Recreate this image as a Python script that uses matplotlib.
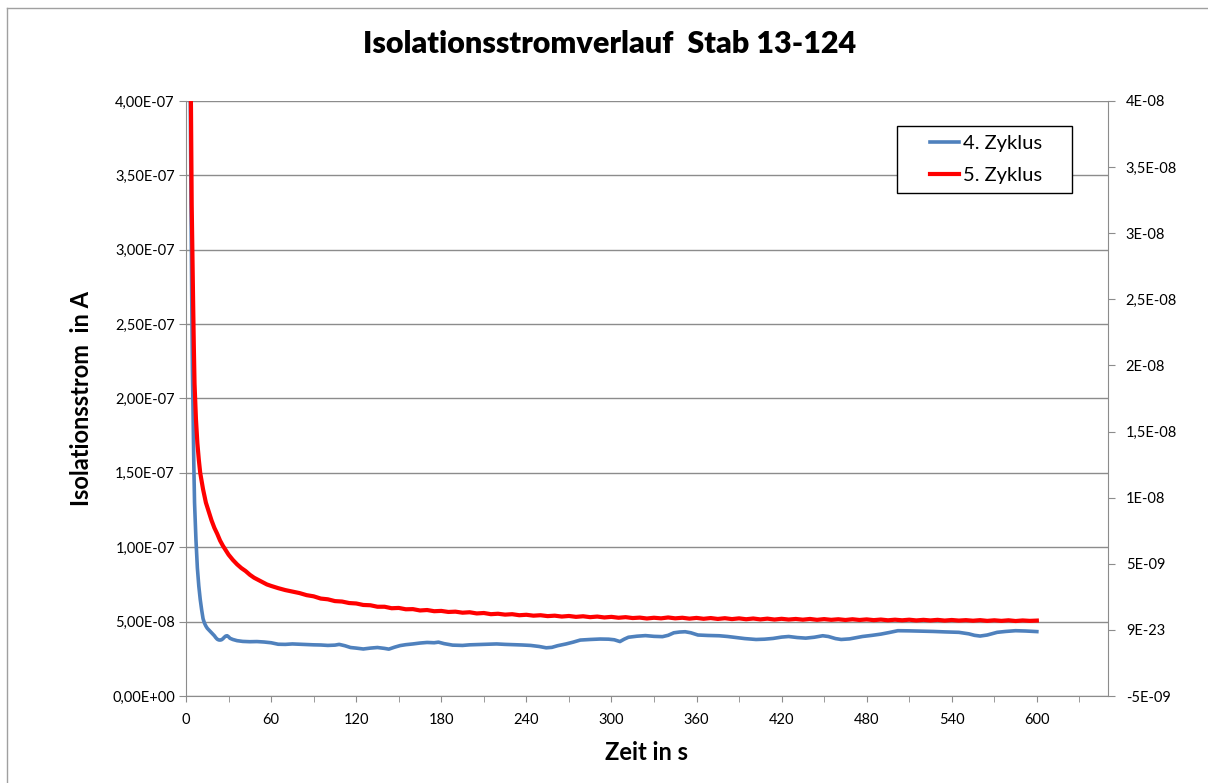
import matplotlib
matplotlib.use("Agg")
import matplotlib.pyplot as plt
import numpy as np
from matplotlib.lines import Line2D
from matplotlib.patches import Rectangle

plt.rcParams['font.family'] = ['Lato', 'DejaVu Sans']

# 4. Zyklus (blue), time in s, current in 1e-8 A
blau_t = [2.5, 3, 3.5, 4, 4.5, 5, 5.5, 6, 7, 8, 9, 10, 11, 12, 13, 14, 15, 16, 17, 18,
          19, 20, 21, 22, 23, 24, 25, 26, 27, 28, 29, 30, 31, 33, 36, 40, 45, 50, 55, 60,
          65, 70, 75, 80, 85, 90, 95, 100, 105, 108, 112, 116, 120, 125, 130, 135, 140, 143, 147, 151,
          155, 160, 165, 170, 175, 178, 182, 188, 195, 200, 207, 213, 219, 225, 231, 237, 243, 249, 254, 258,
          262, 268, 273, 278, 285, 292, 298, 302, 306, 309, 312, 318, 324, 330, 336, 340, 344, 348, 352, 356,
          361, 368, 376, 382, 387, 394, 402, 408, 414, 420, 425, 431, 437, 443, 449, 453, 458, 462, 468, 473,
          477, 484, 490, 496, 502, 510, 518, 527, 535, 545, 552, 556, 560, 565, 572, 578, 585, 592, 600]
blau_v = [46, 40, 33, 27, 22, 18.5, 15.5, 13, 10.5, 8.6, 7.4, 6.5, 5.8, 5.2, 4.9, 4.7, 4.55, 4.45, 4.35, 4.25,
          4.15, 4.05, 3.92, 3.82, 3.77, 3.76, 3.78, 3.85, 3.95, 4.03, 4.05, 3.98, 3.88, 3.8, 3.72, 3.67, 3.65, 3.66, 3.63, 3.58,
          3.48, 3.47, 3.5, 3.48, 3.46, 3.44, 3.43, 3.4, 3.42, 3.47, 3.38, 3.26, 3.22, 3.16, 3.22, 3.26, 3.2, 3.15, 3.28, 3.39,
          3.45, 3.5, 3.56, 3.6, 3.58, 3.62, 3.52, 3.42, 3.4, 3.44, 3.46, 3.48, 3.5, 3.47, 3.45, 3.43, 3.4, 3.33, 3.24, 3.27,
          3.38, 3.5, 3.62, 3.76, 3.8, 3.83, 3.82, 3.78, 3.66, 3.82, 3.95, 4.02, 4.06, 4.01, 3.99, 4.08, 4.25, 4.3, 4.32, 4.25,
          4.1, 4.07, 4.05, 4.0, 3.94, 3.86, 3.8, 3.82, 3.87, 3.96, 4.0, 3.93, 3.89, 3.95, 4.05, 4.0, 3.86, 3.8, 3.84, 3.93,
          4.0, 4.08, 4.16, 4.27, 4.39, 4.38, 4.36, 4.34, 4.31, 4.28, 4.18, 4.08, 4.03, 4.1, 4.28, 4.34, 4.39, 4.37, 4.33]

# 5. Zyklus (red), time in s, current in 1e-8 A
rot_t = [2.5, 3, 3.5, 4, 4.5, 5, 5.5, 6, 7, 8, 9, 10, 12, 14, 16, 18, 20, 22, 24, 26,
         28, 30, 33, 36, 39, 42, 45, 48, 51, 54, 57, 60,
         65, 70, 75, 80, 85, 90, 95, 100, 105, 110, 115, 120, 125, 130, 135, 140, 145, 150,
         155, 160, 165, 170, 175, 180, 185, 190, 195, 200, 205, 210, 215, 220, 225, 230, 235, 240,
         245, 250, 255, 260, 265, 270, 275, 280, 285, 290, 295, 300, 305, 310, 315, 320, 325, 330,
         335, 340, 345, 350, 355, 360, 365, 370, 375, 380, 385, 390, 395, 400, 405, 410, 415, 420,
         425, 430, 435, 440, 445, 450, 455, 460, 465, 470, 475, 480, 485, 490, 495, 500, 505, 510,
         515, 520, 525, 530, 535, 540, 545, 550, 555, 560, 565, 570, 575, 580, 585, 590, 595, 600]
rot_v = [46, 43, 39.5, 33, 29.5, 26.5, 23.5, 21, 18.6, 17, 15.9, 15, 13.9, 13.0, 12.4, 11.8, 11.3, 10.9, 10.45, 10.1,
         9.8, 9.5, 9.15, 8.85, 8.6, 8.4, 8.15, 7.95, 7.8, 7.65, 7.5, 7.4,
         7.25, 7.12, 7.02, 6.92, 6.78, 6.7, 6.55, 6.5, 6.38, 6.35, 6.25, 6.22, 6.12, 6.1, 6.0, 6.0, 5.9, 5.92,
         5.83, 5.84, 5.75, 5.78, 5.7, 5.72, 5.65, 5.67, 5.6, 5.63, 5.55, 5.58, 5.5, 5.53, 5.47, 5.5, 5.43, 5.46,
         5.4, 5.43, 5.37, 5.4, 5.34, 5.38, 5.32, 5.36, 5.3, 5.34, 5.28, 5.32, 5.26, 5.3, 5.24, 5.27, 5.21, 5.26,
         5.22, 5.28, 5.22, 5.26, 5.2, 5.25, 5.19, 5.24, 5.18, 5.23, 5.17, 5.22, 5.16, 5.21, 5.15, 5.2, 5.14, 5.19,
         5.14, 5.18, 5.13, 5.18, 5.12, 5.17, 5.12, 5.16, 5.11, 5.16, 5.11, 5.15, 5.1, 5.14, 5.09, 5.13, 5.09, 5.13,
         5.08, 5.12, 5.08, 5.12, 5.07, 5.11, 5.07, 5.1, 5.06, 5.1, 5.05, 5.09, 5.05, 5.09, 5.04, 5.08, 5.05, 5.07]

x_ticks = [0, 60, 120, 180, 240, 300, 360, 420, 480, 540, 600]
x_minor = [30, 90, 150, 210, 270, 330, 390, 450, 510, 570, 630]
y_ticks = [0, 5e-8, 1e-7, 1.5e-7, 2e-7, 2.5e-7, 3e-7, 3.5e-7, 4e-7]
y_labels = ['0,00E+00', '5,00E-08', '1,00E-07', '1,50E-07', '2,00E-07',
            '2,50E-07', '3,00E-07', '3,50E-07', '4,00E-07']
y2_ticks = [-5e-9, 0, 5e-9, 1e-8, 1.5e-8, 2e-8, 2.5e-8, 3e-8, 3.5e-8, 4e-8]
y2_labels = ['-5E-09', '9E-23', '5E-09', '1E-08', '1,5E-08', '2E-08',
             '2,5E-08', '3E-08', '3,5E-08', '4E-08']

grau = '#8c8c8c'

fig = plt.figure(figsize=(12.08, 7.83), dpi=100)
ax = fig.add_axes([0.154, 0.1111, 0.763, 0.76])

ax.plot(blau_t, np.array(blau_v) * 1e-8, color='#4f81bd', lw=2.6, label='4. Zyklus', zorder=3)
ax.plot(rot_t, np.array(rot_v) * 1e-8, color='#ff0000', lw=3.0, label='5. Zyklus', zorder=3)

ax.set_xlim(0, 650)
ax.set_ylim(0, 4e-7)
ax.set_xticks(x_ticks)
ax.set_xticks(x_minor, minor=True)
ax.set_yticks(y_ticks)
ax.set_yticklabels(y_labels)
ax.grid(axis='y', color=grau, lw=1)
ax.set_axisbelow(True)
for s in ['top', 'right']:
    ax.spines[s].set_visible(False)
for s in ['left', 'bottom']:
    ax.spines[s].set_color(grau)
ax.tick_params(axis='both', which='both', color=grau, direction='out', labelsize=10.5)
ax.tick_params(axis='y', length=5, pad=3)
ax.tick_params(axis='x', which='major', length=4, pad=8)
ax.tick_params(axis='x', which='minor', length=4)

ax.set_xlabel('Zeit in s', fontsize=17, fontweight='bold', labelpad=10)
ax.set_ylabel('Isolationsstrom  in A', fontsize=17, fontweight='bold', labelpad=14)

ax2 = ax.twinx()
ax2.set_ylim(-5e-9, 4e-8)
ax2.set_yticks(y2_ticks)
ax2.set_yticklabels(y2_labels)
for s in ['top', 'left', 'bottom']:
    ax2.spines[s].set_visible(False)
ax2.spines['right'].set_color(grau)
ax2.tick_params(axis='y', color=grau, length=5, labelsize=10.5, pad=8)

# legend box
ax2.add_patch(Rectangle((0.771, 0.845), 0.19, 0.113, transform=ax.transAxes,
                        facecolor='white', edgecolor='black', lw=1, zorder=4))
handles, labels = ax.get_legend_handles_labels()
leg = ax2.legend(handles, labels, loc='center', bbox_to_anchor=(0.868, 0.9015),
                 frameon=False, fontsize=14.5, handlelength=1.45, handletextpad=0.2,
                 labelspacing=0.75)
leg.set_zorder(5)

fig.text(0.505, 0.944, 'Isolationsstromverlauf  Stab 13-124', ha='center', va='center',
         fontsize=22, fontweight='heavy')

# chart area border (left and top edge)
fig.add_artist(Line2D([7 / 1208, 7 / 1208], [0, 1 - 8 / 783], color='#a0a0a0', lw=1))
fig.add_artist(Line2D([7 / 1208, 1], [1 - 8 / 783, 1 - 8 / 783], color='#a0a0a0', lw=1))

fig.savefig('out.png', dpi=100)
